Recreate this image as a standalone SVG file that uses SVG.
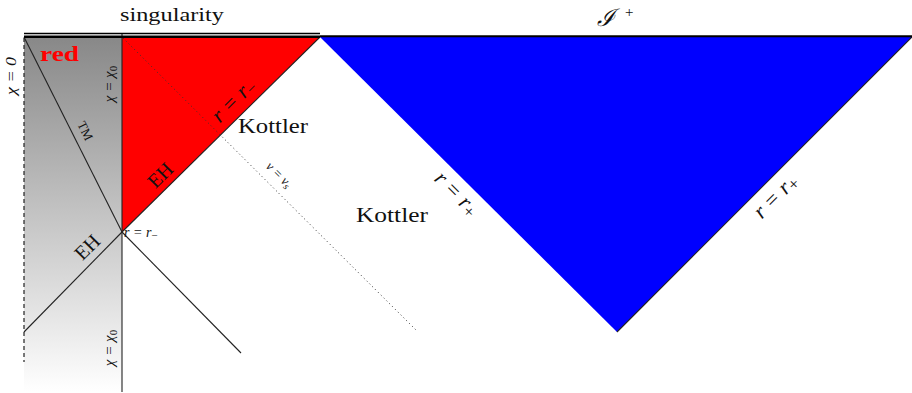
<svg xmlns="http://www.w3.org/2000/svg" width="912" height="393" viewBox="0 0 912 393">
<defs>
<linearGradient id="gray" x1="0" y1="37" x2="0" y2="392" gradientUnits="userSpaceOnUse">
<stop offset="0" stop-color="#888888"/>
<stop offset="1" stop-color="#ffffff"/>
</linearGradient>
</defs>
<style>
.t{font-family:"Liberation Serif","DejaVu Serif",serif;fill:#111;}
.m{font-family:"Liberation Serif","DejaVu Serif",serif;font-style:italic;fill:#111;}
.ln{stroke:#222;stroke-width:1.1;fill:none;}
</style>
<rect width="912" height="393" fill="#fff"/>
<g id="region-gray"><rect x="24" y="37" width="98" height="355" fill="url(#gray)"/></g>
<g id="region-red"><polygon points="122,37 320,37 122,232" fill="#ff0000"/></g>
<g id="region-blue"><polygon points="320,37 912,37 617,332" fill="#0000ff"/></g>
<g id="connectors">
<line class="ln" x1="320" y1="37" x2="122" y2="232"/>
<line class="ln" x1="617" y1="332" x2="912" y2="37"/>
<line class="ln" x1="24" y1="37" x2="122" y2="232"/>
<line class="ln" x1="24" y1="332" x2="122" y2="232"/>
<line class="ln" x1="122" y1="232" x2="241" y2="353"/>
<line class="ln" x1="122" y1="34" x2="122" y2="392"/>
<line x1="24" y1="38" x2="24" y2="362" stroke="#222" stroke-width="1.2" stroke-dasharray="4,3"/>
<line x1="123" y1="38" x2="417" y2="331" stroke="#333" stroke-width="1" stroke-dasharray="1,3"/>
<line x1="24" y1="33.5" x2="320" y2="33.5" stroke="#000" stroke-width="1.6"/>
<line x1="24" y1="36.7" x2="320" y2="36.7" stroke="#000" stroke-width="2.4"/>
<line x1="320" y1="36.3" x2="912" y2="36.3" stroke="#000" stroke-width="2"/>
</g>
<g id="labels">
<text class="t" x="172" y="21" font-size="19" text-anchor="middle" textLength="104" lengthAdjust="spacingAndGlyphs">singularity</text>
<text x="597" y="26" font-family="'DejaVu Serif','Liberation Serif',serif" font-style="italic" font-size="24" fill="#111">ℐ</text>
<text class="t" x="625" y="17" font-size="15">+</text>
<text x="40" y="61" font-family="'Liberation Serif','DejaVu Serif',serif" font-weight="bold" font-size="22" fill="#ff0000" textLength="39" lengthAdjust="spacingAndGlyphs">red</text>
<text class="m" transform="translate(16,76) rotate(-90)" font-size="15" text-anchor="middle" textLength="38" lengthAdjust="spacingAndGlyphs">χ = 0</text>
<text class="m" transform="translate(114,84) rotate(-90)" font-size="15" text-anchor="middle">χ = χ<tspan font-style="normal" font-size="11" dy="3">0</tspan></text>
<text class="m" transform="translate(114,348) rotate(-90)" font-size="15" text-anchor="middle">χ = χ<tspan font-style="normal" font-size="11" dy="3">0</tspan></text>
<text class="t" transform="translate(85,131) rotate(63.3)" font-size="13" text-anchor="middle" dy="4">TM</text>
<text class="t" transform="translate(160,175) rotate(-45)" font-size="20" text-anchor="middle" dy="7">EH</text>
<text class="t" transform="translate(87,247) rotate(-45)" font-size="20" text-anchor="middle" dy="7">EH</text>
<text class="m" transform="translate(234,101) rotate(-45)" font-size="22" text-anchor="middle" dy="6">r = r<tspan font-style="normal" font-size="16" dy="3">−</tspan></text>
<text class="t" x="238" y="133" font-size="20" textLength="70" lengthAdjust="spacingAndGlyphs">Kottler</text>
<text class="t" x="356" y="222" font-size="20" textLength="72" lengthAdjust="spacingAndGlyphs">Kottler</text>
<text class="m" transform="translate(279,175) rotate(45)" font-size="13" text-anchor="middle" dy="4">v = v<tspan font-size="10" dy="2">s</tspan></text>
<text class="m" x="124" y="237" font-size="14">r = r<tspan font-style="normal" font-size="11" dy="2">−</tspan></text>
<text class="m" transform="translate(456,194) rotate(45)" font-size="22" text-anchor="middle" dy="6">r = r<tspan font-style="normal" font-size="17" dy="3">+</tspan></text>
<text class="m" transform="translate(776,197) rotate(-45)" font-size="22" text-anchor="middle" dy="6">r = r<tspan font-style="normal" font-size="17" dy="3">+</tspan></text>
</g>
</svg>
